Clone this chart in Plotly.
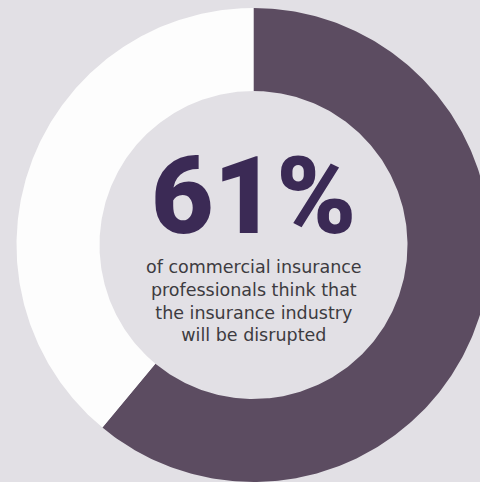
import numpy as np
import plotly.graph_objects as go

# Data
segment_labels = ["Think industry will be disrupted", "Other"]
segment_values = [61, 39]
headline = "61%"
caption_lines = [
    "of commercial insurance",
    "professionals think that",
    "the insurance industry",
    "will be disrupted",
]

# Style / layout
W, H = 480, 482
BG = "#e2e0e5"
COLORS = ["#5c4c61", "#fdfdfd"]
CX, CY = 253.5, 245.0
R_OUT, R_IN = 237.0, 154.0

fig = go.Figure()

total = sum(segment_values)
start = 0.0
for lab, val, col in zip(segment_labels, segment_values, COLORS):
    frac = val / total
    t = np.linspace(start, start + frac, 300) * 2 * np.pi
    xo = CX + R_OUT * np.sin(t)
    yo = CY - R_OUT * np.cos(t)
    xi = CX + R_IN * np.sin(t[::-1])
    yi = CY - R_IN * np.cos(t[::-1])
    xs = np.concatenate([xo, xi, xo[:1]])
    ys = np.concatenate([yo, yi, yo[:1]])
    fig.add_trace(go.Scatter(
        x=xs, y=ys, mode="lines", fill="toself", fillcolor=col,
        line=dict(width=0, color=col), name=lab, hoverinfo="name",
        showlegend=False,
    ))
    start += frac

fig.add_annotation(
    x=CX, y=196, xref="x", yref="y", text=headline,
    showarrow=False, xanchor="center", yanchor="middle",
    font=dict(family="Roboto", size=108, color="#3b2a55", weight=900),
)

fig.add_annotation(
    x=CX, y=301, xref="x", yref="y", text="<br>".join(caption_lines),
    showarrow=False, xanchor="center", yanchor="middle", align="center",
    font=dict(family="DejaVu Sans", size=17.5, color="#3d3b40"),
)

fig.update_layout(
    width=W, height=H, margin=dict(l=0, r=0, t=0, b=0),
    paper_bgcolor=BG, plot_bgcolor=BG,
    xaxis=dict(range=[0, W], visible=False, fixedrange=True),
    yaxis=dict(range=[H, 0], visible=False, fixedrange=True),
    showlegend=False,
)

fig.write_html(
    "out.html",
    config={"displayModeBar": False},
    post_script="document.body.style.margin='0';document.body.style.overflow='hidden';",
)
